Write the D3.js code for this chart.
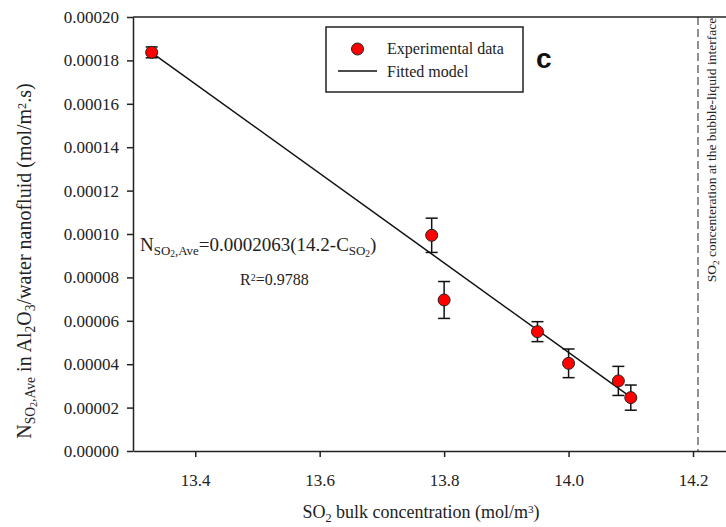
<!DOCTYPE html>
<html>
<head>
<meta charset="utf-8">
<script src="https://cdn.jsdelivr.net/npm/d3@7"></script>
<style>
  body { margin: 0; background: #fff; }
  svg { display: block; font-family: "Liberation Serif", "Times New Roman", serif; }
  svg text { font-family: "Liberation Serif", "Times New Roman", serif; }
  svg text.sans { font-family: "Liberation Sans", Arial, sans-serif; }
</style>
</head>
<body>
<div id="vis"></div>
<script>
// experimental data
const concentration = [13.33, 13.78, 13.80, 13.95, 14.00, 14.08, 14.10];
const flux = [0.0001837, 0.0000994, 0.0000696, 0.0000550, 0.0000404, 0.0000323, 0.0000246];
const fluxError = [0.0000025, 0.0000079, 0.0000085, 0.0000046, 0.0000066, 0.0000067, 0.0000058];

// fitted model line end points
const fitConcentration = [13.33, 14.10];
const fitFlux = [0.0001836, 0.0000248];

// interface concentration (dashed line)
const interfaceConcentration = 14.208;

const xTicks = [13.4, 13.6, 13.8, 14.0, 14.2];
const yTicks = [0, 0.00002, 0.00004, 0.00006, 0.00008, 0.00010, 0.00012, 0.00014, 0.00016, 0.00018, 0.00020];

////////////////////////////////////////
////////////// SVG Setup ///////////////
////////////////////////////////////////

const width = 726, height = 527;
const margin = { top: 17, right: 0, bottom: 76, left: 133 };
const innerW = width - margin.left - margin.right;
const innerH = height - margin.top - margin.bottom;
const serif = "Liberation Serif, Times New Roman, serif";

const svg = d3.select("#vis").append("svg")
  .attr("width", width)
  .attr("height", height);

const g = svg.append("g")
  .attr("transform", `translate(${margin.left},${margin.top})`);

////////////////////////////////////////
////////////// Scales //////////////////
////////////////////////////////////////

const x = d3.scaleLinear().domain([13.3, 14.253]).range([0, innerW]);
const y = d3.scaleLinear().domain([0, 0.0002]).range([innerH, 0]);

////////////////////////////////////////
////////////// Axes ////////////////////
////////////////////////////////////////

const xAxis = g.append("g")
  .attr("transform", `translate(0,${innerH})`)
  .call(d3.axisBottom(x).tickValues(xTicks).tickFormat(d3.format(".1f")).tickSize(6).tickSizeOuter(0));

const yAxis = g.append("g")
  .call(d3.axisLeft(y).tickValues(yTicks).tickFormat(d3.format(".5f")).tickSize(6).tickSizeOuter(0));

[xAxis, yAxis].forEach(a => {
  a.attr("font-family", serif).attr("font-size", 17);
  a.selectAll("path, line").attr("stroke", "#222").attr("stroke-width", 1.5);
  a.selectAll("text")
    .attr("fill", "#222")
    .attr("font-family", serif)
    .style("font-family", serif);
});
xAxis.selectAll("text").attr("dy", "1.5em");
yAxis.selectAll("text").attr("x", -14);

// top frame line
g.append("line")
  .attr("x1", 0).attr("x2", innerW)
  .attr("y1", 0).attr("y2", 0)
  .attr("stroke", "#222").attr("stroke-width", 1.5);

// interface dashed line
g.append("line")
  .attr("x1", x(interfaceConcentration)).attr("x2", x(interfaceConcentration))
  .attr("y1", 0).attr("y2", innerH)
  .attr("stroke", "#222").attr("stroke-width", 1)
  .attr("stroke-dasharray", "8,4");

////////////////////////////////////////
////////////// Marks ///////////////////
////////////////////////////////////////

const fitData = fitConcentration.map((c, i) => ({ c, n: fitFlux[i] }));
g.append("path")
  .datum(fitData)
  .attr("fill", "none")
  .attr("stroke", "#111")
  .attr("stroke-width", 1.5)
  .attr("d", d3.line().x(d => x(d.c)).y(d => y(d.n)));

const data = concentration.map((c, i) => ({ c, n: flux[i], e: fluxError[i] }));

const bars = g.selectAll(".err")
  .data(data)
  .join("g")
  .classed("err", true)
  .attr("stroke", "#111")
  .attr("stroke-width", 1.5);

bars.append("line")
  .attr("x1", d => x(d.c)).attr("x2", d => x(d.c))
  .attr("y1", d => y(d.n - d.e)).attr("y2", d => y(d.n + d.e));
bars.append("line")
  .attr("x1", d => x(d.c) - 6).attr("x2", d => x(d.c) + 6)
  .attr("y1", d => y(d.n + d.e)).attr("y2", d => y(d.n + d.e));
bars.append("line")
  .attr("x1", d => x(d.c) - 6).attr("x2", d => x(d.c) + 6)
  .attr("y1", d => y(d.n - d.e)).attr("y2", d => y(d.n - d.e));

g.selectAll(".pt")
  .data(data)
  .join("circle")
  .classed("pt", true)
  .attr("cx", d => x(d.c))
  .attr("cy", d => y(d.n))
  .attr("r", 6)
  .attr("fill", "#f00")
  .attr("stroke", "#222")
  .attr("stroke-width", 1);

////////////////////////////////////////
////////////// Legend //////////////////
////////////////////////////////////////

const legend = svg.append("g");
legend.append("rect")
  .attr("x", 326).attr("y", 27)
  .attr("width", 197).attr("height", 65)
  .attr("fill", "#fff").attr("stroke", "#222").attr("stroke-width", 1.5);
legend.append("circle")
  .attr("cx", 357.5).attr("cy", 49).attr("r", 6)
  .attr("fill", "#f00").attr("stroke", "#222").attr("stroke-width", 1);
legend.append("line")
  .attr("x1", 338).attr("x2", 377).attr("y1", 71).attr("y2", 71)
  .attr("stroke", "#111").attr("stroke-width", 1.5);
legend.append("text")
  .attr("x", 387).attr("y", 54)
  .attr("font-size", 16).attr("fill", "#222")
  .text("Experimental data");
legend.append("text")
  .attr("x", 387).attr("y", 77)
  .attr("font-size", 16).attr("fill", "#222")
  .text("Fitted model");

svg.append("text")
  .classed("sans", true)
  .attr("x", 536).attr("y", 68)
  .attr("font-weight", "bold")
  .attr("font-size", 28)
  .attr("fill", "#111")
  .text("c");

////////////////////////////////////////
////////////// Labels //////////////////
////////////////////////////////////////

// helper: append [text, kind] parts as tspans
function rich(sel, parts, baseSize) {
  parts.forEach(([t, kind]) => {
    const ts = sel.append("tspan").text(t);
    if (kind === "sub") ts.attr("font-size", baseSize * 0.68).attr("baseline-shift", "-30%");
    if (kind === "sub2") ts.attr("font-size", baseSize * 0.5).attr("baseline-shift", "-55%");
    if (kind === "sup") ts.attr("font-size", baseSize * 0.62).attr("baseline-shift", "45%");
  });
}

// equation
const eq = svg.append("text").attr("x", 140).attr("y", 251).attr("font-size", 19).attr("fill", "#222");
rich(eq, [["N"], ["SO", "sub"], ["2", "sub2"], [",Ave", "sub"], ["=0.0002063(14.2-C"], ["SO", "sub"], ["2", "sub2"], [")"]], 19);

const r2 = svg.append("text").attr("x", 240).attr("y", 285).attr("font-size", 16).attr("fill", "#222");
rich(r2, [["R"], ["2", "sup"], ["=0.9788"]], 16);

// x axis title
const xt = svg.append("text")
  .attr("x", 421).attr("y", 518)
  .attr("text-anchor", "middle")
  .attr("font-size", 18).attr("fill", "#222");
rich(xt, [["SO"], ["2", "sub"], [" bulk concentration (mol/m"], ["3", "sup"], [")"]], 18);

// y axis title
const yt = svg.append("text")
  .attr("transform", "translate(31,261) rotate(-90)")
  .attr("text-anchor", "middle")
  .attr("font-size", 20).attr("fill", "#222");
rich(yt, [["N"], ["SO", "sub"], ["2", "sub2"], [",Ave", "sub"], [" in Al"], ["2", "sub"], ["O"], ["3", "sub"], ["/water nanofluid (mol/m"], ["2", "sup"], [".s)"]], 20);

// interface label
const it = svg.append("text")
  .attr("transform", "translate(716,150) rotate(-90)")
  .attr("text-anchor", "middle")
  .attr("font-size", 13.5).attr("fill", "#222");
rich(it, [["SO"], ["2", "sub"], [" concenteration at the bubble-liquid interface"]], 13.5);
</script>
</body>
</html>
